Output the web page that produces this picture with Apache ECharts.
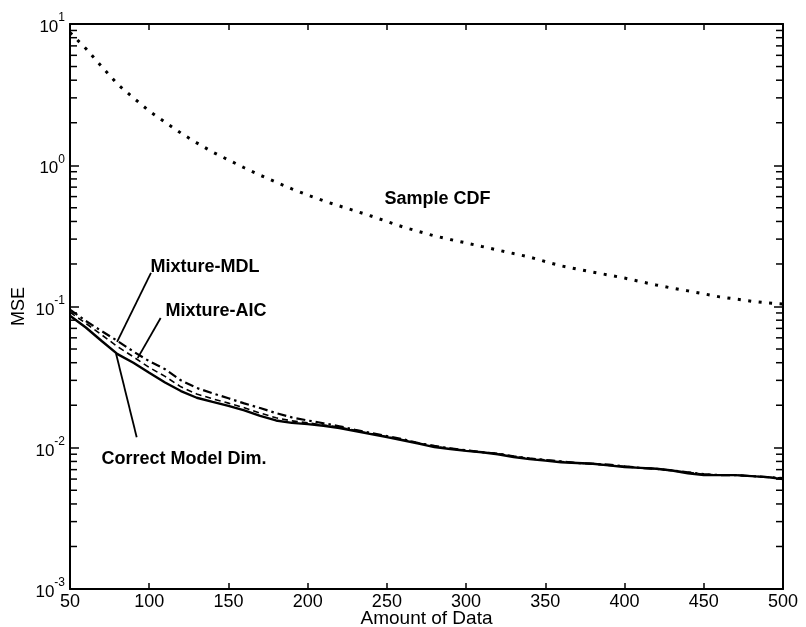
<!DOCTYPE html>
<html><head><meta charset="utf-8">
<script src="https://cdn.jsdelivr.net/npm/echarts@6/dist/echarts.min.js"></script>
<style>html,body{margin:0;padding:0;background:#fff}#c{width:806px;height:627px}</style>
</head><body><div id="c"></div>
<script>
// ---------- data ----------
const amounts = [50,60,70,80,90,100,110,120,130,140,150,160,170,180,190,200,210,220,230,240,250,260,270,280,290,300,310,320,330,340,350,360,370,380,390,400,410,420,430,440,450,460,470,480,490,500];
const sampleCDF = [8.7,6.7,5.0,3.75,3.0,2.42,2.02,1.69,1.44,1.24,1.09,0.96,0.85,0.76,0.68,0.615,0.56,0.515,0.475,0.437,0.40,0.366,0.34,0.316,0.298,0.282,0.266,0.251,0.237,0.224,0.208,0.194,0.184,0.175,0.167,0.159,0.150,0.142,0.135,0.129,0.123,0.117,0.113,0.109,0.106,0.104];
const correctDim = [0.086,0.071,0.057,0.046,0.040,0.034,0.029,0.0252,0.0226,0.0211,0.0198,0.0184,0.0168,0.0156,0.0150,0.0147,0.0143,0.0138,0.0131,0.0125,0.0119,0.0113,0.0107,0.0101,0.0098,0.0095,0.0093,0.0090,0.0086,0.0083,0.0081,0.0079,0.0078,0.0077,0.0075,0.0073,0.0072,0.0071,0.0069,0.0066,0.0064,0.0064,0.0064,0.0063,0.0062,0.0060];
const mixtureMDL = [0.091,0.076,0.063,0.052,0.044,0.037,0.032,0.027,0.0240,0.0222,0.0207,0.0192,0.0176,0.0163,0.0155,0.0150,0.0145,0.0140,0.0133,0.0126,0.0120,0.0114,0.0108,0.0102,0.0099,0.0096,0.0093,0.0091,0.0087,0.0084,0.0082,0.0080,0.0078,0.0077,0.0075,0.0074,0.0072,0.0071,0.0069,0.0067,0.0065,0.0064,0.0064,0.0063,0.0062,0.0061];
const mixtureAIC = [0.095,0.079,0.067,0.057,0.048,0.041,0.036,0.030,0.0265,0.0243,0.0224,0.0206,0.0191,0.0176,0.0164,0.0156,0.0149,0.0142,0.0134,0.0127,0.0121,0.0115,0.0108,0.0103,0.0099,0.0096,0.0093,0.0091,0.0087,0.0084,0.0082,0.0080,0.0078,0.0077,0.0076,0.0074,0.0072,0.0071,0.0069,0.0067,0.0065,0.0064,0.0064,0.0063,0.0062,0.0061];
const xTickValues = [50,100,150,200,250,300,350,400,450,500];
const yMinorValues = [0.002,0.003,0.004,0.005,0.006,0.007,0.008,0.009,0.02,0.03,0.04,0.05,0.06,0.07,0.08,0.09,0.2,0.3,0.4,0.5,0.6,0.7,0.8,0.9,2,3,4,5,6,7,8,9];
const annotationLabels = ['Sample CDF','Mixture-MDL','Mixture-AIC','Correct Model Dim.'];
// annotation anchors (data coordinates)
const annotationAt = [[281.9,0.577],[135.2,0.190],[142.1,0.093],[121.9,0.00832]];
const pointerLines = [[[101.1,0.173],[79.7,0.0561]],[[107.2,0.083],[92.7,0.0431]],[[79.0,0.0467],[92.1,0.01186]]];

// ---------- chart ----------
const FONT = "'Liberation Sans', Arial, Helvetica, sans-serif";
const pair = arr => amounts.map((x,i)=>[x,arr[i]]);
const chart = echarts.init(document.getElementById('c'));
const axisLineStyle = {color:'#000', width:2};
const tickStyle = {color:'#000', width:1.5};
const supLabel = v => { const e = Math.round(Math.log10(v)); return '{b|10}{s|' + e + '}'; };

chart.setOption({
  animation:false,
  backgroundColor:'#fff',
  grid:{left:70, top:24, width:713, height:565, containLabel:false, outerBoundsMode:'none'},
  xAxis:[{
    type:'value', min:50, max:500, interval:50,
    axisLine:{lineStyle:axisLineStyle}, axisTick:{inside:true, length:6, lineStyle:tickStyle},
    axisLabel:{color:'#000', fontSize:18, fontFamily:FONT, margin:4},
    splitLine:{show:false},
    name:'Amount of Data', nameLocation:'middle', nameGap:20, nameMoveOverlap:false,
    nameTextStyle:{color:'#000', fontSize:19, fontFamily:FONT}
  },{
    type:'value', position:'top', min:50, max:500, interval:50,
    axisLine:{lineStyle:axisLineStyle}, axisTick:{inside:true, length:6, lineStyle:tickStyle},
    axisLabel:{show:false}, splitLine:{show:false}
  }],
  yAxis:[{
    type:'log', logBase:10, min:0.001, max:10,
    axisLine:{lineStyle:axisLineStyle}, axisTick:{inside:true, length:9, lineStyle:tickStyle},
    axisLabel:{formatter:supLabel, margin:5, color:'#000',
      rich:{b:{fontSize:17, fontFamily:FONT, color:'#000', lineHeight:24, verticalAlign:'bottom'},
            s:{fontSize:12, fontFamily:FONT, color:'#000', lineHeight:24, verticalAlign:'top'}}},
    splitLine:{show:false},
    name:'MSE', nameLocation:'middle', nameGap:42, nameRotate:90, nameMoveOverlap:false,
    nameTextStyle:{color:'#000', fontSize:18, fontFamily:FONT}
  },{
    type:'log', logBase:10, min:0.001, max:10, position:'right',
    axisLine:{lineStyle:axisLineStyle}, axisTick:{inside:true, length:9, lineStyle:tickStyle},
    axisLabel:{show:false}, splitLine:{show:false}
  }],
  series:[
    {name:'Sample CDF', type:'line', data:pair(sampleCDF), showSymbol:false, smooth:false,
      lineStyle:{color:'#000', width:3, type:[3,7.5], cap:'butt'}},
    {name:'Mixture-AIC', type:'line', data:pair(mixtureAIC), showSymbol:false,
      lineStyle:{color:'#000', width:2.2, type:[9,4,2.5,4]}},
    {name:'Mixture-MDL', type:'line', data:pair(mixtureMDL), showSymbol:false,
      lineStyle:{color:'#000', width:1.6, type:[6,4]}},
    {name:'Correct Model Dim.', type:'line', data:pair(correctDim), showSymbol:false,
      lineStyle:{color:'#000', width:2.4}},
    {type:'custom', data:yMinorValues.map(v=>[50,v]), encode:{x:0,y:1}, clip:false, silent:true,
      renderItem:(params, api)=>{
        const p = api.coord([api.value(0), api.value(1)]);
        const cs = params.coordSys;
        const L = 7;
        return {type:'group', children:[
          {type:'line', shape:{x1:cs.x, y1:p[1], x2:cs.x+L, y2:p[1]}, style:{stroke:'#000', lineWidth:1.5}},
          {type:'line', shape:{x1:cs.x+cs.width-L, y1:p[1], x2:cs.x+cs.width, y2:p[1]}, style:{stroke:'#000', lineWidth:1.5}}
        ]};
      }}
  ]
});

const g = [];
annotationLabels.forEach((t,i)=>{
  const p = chart.convertToPixel({gridIndex:0}, annotationAt[i]);
  g.push({type:'text', x:p[0], y:p[1], style:{text:t, fill:'#000', font:'bold 18px ' + FONT, align:'center', verticalAlign:'middle'}});
});
pointerLines.forEach(seg=>{
  const a = chart.convertToPixel({gridIndex:0}, seg[0]);
  const b = chart.convertToPixel({gridIndex:0}, seg[1]);
  g.push({type:'line', shape:{x1:a[0], y1:a[1], x2:b[0], y2:b[1]}, style:{stroke:'#000', lineWidth:1.8}});
});
chart.setOption({graphic:g});
</script>
</body></html>
